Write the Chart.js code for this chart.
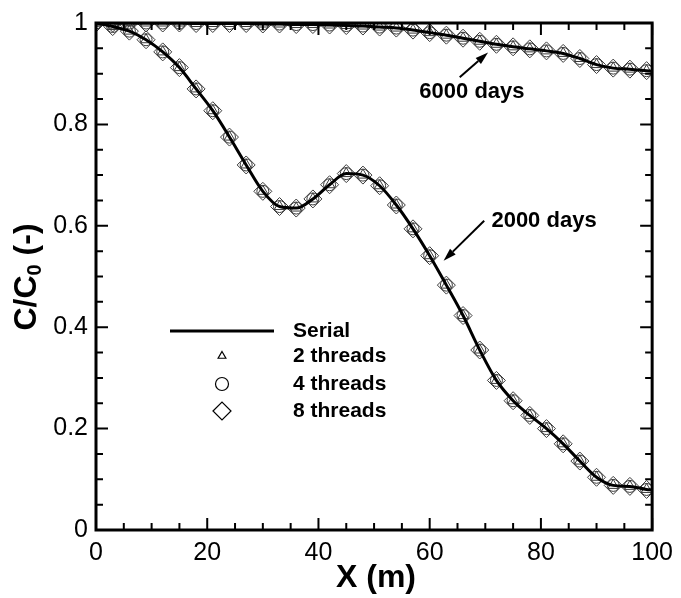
<!DOCTYPE html>
<html>
<head>
<meta charset="utf-8">
<script src="https://cdn.jsdelivr.net/npm/chart.js@4/dist/chart.umd.min.js"></script>
<style>
  html, body { margin: 0; padding: 0; background: #fff; }
  #wrap { width: 681px; height: 598px; }
</style>
</head>
<body>
<div id="wrap"><canvas id="chart" width="681" height="598"></canvas></div>
<script>
// sample positions along the column (m)
const xPos = [0, 3, 6, 9, 12, 15, 18, 21, 24, 27, 30, 33, 36, 39, 42, 45, 48,
  51, 54, 57, 60, 63, 66, 69, 72, 75, 78, 81, 84, 87, 90, 93, 96, 99];
// serial run also reports the outlet at 100 m
const xSerial = [0, 3, 6, 9, 12, 15, 18, 21, 24, 27, 30, 33, 36, 39, 42, 45, 48,
  51, 54, 57, 60, 63, 66, 69, 72, 75, 78, 81, 84, 87, 90, 93, 96, 99, 100];

// C/C0 at 2000 days
const c2000 = [1.0, 0.993, 0.984, 0.967, 0.943, 0.912, 0.870, 0.827, 0.775, 0.720,
  0.668, 0.638, 0.635, 0.653, 0.681, 0.703, 0.700, 0.679, 0.641, 0.594, 0.541,
  0.483, 0.423, 0.355, 0.295, 0.255, 0.226, 0.200, 0.170, 0.136, 0.104, 0.088,
  0.086, 0.080, 0.079];

// C/C0 at 6000 days
const c6000 = [1.0, 1.0, 1.0, 1.0, 1.0, 1.0, 0.999, 0.999, 0.999, 0.999,
  0.998, 0.998, 0.997, 0.997, 0.996, 0.995, 0.994, 0.992, 0.990, 0.986, 0.981,
  0.976, 0.970, 0.964, 0.958, 0.953, 0.949, 0.945, 0.940, 0.930, 0.918, 0.911,
  0.909, 0.906, 0.905];

const xTicks = [0, 20, 40, 60, 80, 100];
const yTicks = [0, 0.2, 0.4, 0.6, 0.8, 1];

const series = ["Serial", "2 threads", "4 threads", "8 threads"];
const markers = { "2 threads": "triangle", "4 threads": "circle", "8 threads": "rectRot" };
const markerSize = { "2 threads": 6, "4 threads": 6, "8 threads": 9 };

const toPts = (xs, ys) => xs.map((x, i) => ({ x: x, y: ys[i] }));

const datasets = [];
// serial curves (drawn on top)
[c2000, c6000].forEach(c => {
  datasets.push({
    label: "Serial",
    data: toPts(xSerial, c),
    showLine: true,
    borderColor: "#000",
    borderWidth: 3,
    pointRadius: 0,
    cubicInterpolationMode: "monotone",
    order: 0
  });
});
// threaded runs, same values as serial at sample points
series.slice(1).forEach((name, k) => {
  [c2000, c6000].forEach(c => {
    datasets.push({
      label: name,
      data: toPts(xPos, c),
      showLine: false,
      pointStyle: markers[name],
      pointRadius: markerSize[name],
      pointBorderColor: "#3a3a3a",
      pointBackgroundColor: "rgba(0,0,0,0)",
      pointBorderWidth: 1,
      order: 3 - k
    });
  });
});

const frame = {
  id: "frame",
  afterDraw(chart) {
    const ctx = chart.ctx;
    const a = chart.chartArea;
    const xs = chart.scales.x, ys = chart.scales.y;
    ctx.save();
    ctx.strokeStyle = "#000";
    ctx.lineWidth = 3;
    ctx.strokeRect(a.left, a.top, a.right - a.left, a.bottom - a.top);

    // inward ticks on all four sides
    ctx.lineWidth = 2;
    for (let v = 0; v <= 100; v += 5) {
      const px = xs.getPixelForValue(v);
      const len = v % 20 === 0 ? 12 : 7;
      ctx.beginPath();
      ctx.moveTo(px, a.bottom); ctx.lineTo(px, a.bottom - len);
      ctx.moveTo(px, a.top); ctx.lineTo(px, a.top + len);
      ctx.stroke();
    }
    for (let i = 0; i <= 20; i++) {
      const py = ys.getPixelForValue(i * 0.05);
      const len = i % 4 === 0 ? 12 : 7;
      ctx.beginPath();
      ctx.moveTo(a.left, py); ctx.lineTo(a.left + len, py);
      ctx.moveTo(a.right, py); ctx.lineTo(a.right - len, py);
      ctx.stroke();
    }

    // axis titles
    ctx.fillStyle = "#000";
    ctx.font = "bold 32px 'Liberation Sans', Arial, sans-serif";
    ctx.textAlign = "center";
    ctx.textBaseline = "middle";
    ctx.fillText("X (m)", 376, 578);

    ctx.save();
    ctx.translate(27, 277);
    ctx.rotate(-Math.PI / 2);
    const big = "bold 32px 'Liberation Sans', Arial, sans-serif";
    const small = "bold 20px 'Liberation Sans', Arial, sans-serif";
    ctx.font = big;
    const w1 = ctx.measureText("C/C").width;
    const w3 = ctx.measureText(" (-)").width;
    ctx.font = small;
    const w2 = ctx.measureText("0").width;
    let sx = -(w1 + w2 + w3) / 2;
    ctx.textAlign = "left";
    ctx.font = big;
    ctx.fillText("C/C", sx, 0);
    ctx.font = small;
    ctx.fillText("0", sx + w1, 8);
    ctx.font = big;
    ctx.fillText(" (-)", sx + w1 + w2, 0);
    ctx.restore();

    // annotations with arrows
    const arrow = (x0, y0, x1, y1) => {
      const p0 = [xs.getPixelForValue(x0), ys.getPixelForValue(y0)];
      const p1 = [xs.getPixelForValue(x1), ys.getPixelForValue(y1)];
      const ang = Math.atan2(p1[1] - p0[1], p1[0] - p0[0]);
      const hl = 13, hw = 4;
      const bx = p1[0] - hl * Math.cos(ang), by = p1[1] - hl * Math.sin(ang);
      ctx.lineWidth = 2;
      ctx.beginPath();
      ctx.moveTo(p0[0], p0[1]); ctx.lineTo(bx, by);
      ctx.stroke();
      ctx.beginPath();
      ctx.moveTo(p1[0], p1[1]);
      ctx.lineTo(bx + hw * Math.sin(ang), by - hw * Math.cos(ang));
      ctx.lineTo(bx - hw * Math.sin(ang), by + hw * Math.cos(ang));
      ctx.closePath();
      ctx.fill();
    };
    arrow(65.4, 0.893, 70.5, 0.942);
    arrow(69.8, 0.610, 62.5, 0.531);

    ctx.font = "bold 22px 'Liberation Sans', Arial, sans-serif";
    ctx.textAlign = "center";
    ctx.fillText("6000 days", xs.getPixelForValue(67.6), ys.getPixelForValue(0.864));
    ctx.textAlign = "left";
    ctx.fillText("2000 days", xs.getPixelForValue(71.1), ys.getPixelForValue(0.610));

    // legend
    const lx = 222, tx = 293;
    const rows = [331, 356, 384, 411];
    ctx.font = "bold 21px 'Liberation Sans', Arial, sans-serif";
    series.forEach((name, i) => {
      const y = rows[i];
      if (name === "Serial") {
        ctx.lineWidth = 3;
        ctx.beginPath();
        ctx.moveTo(170, y); ctx.lineTo(274, y);
        ctx.stroke();
      } else {
        ctx.strokeStyle = "#000";
        ctx.fillStyle = "rgba(0,0,0,0)";
        ctx.lineWidth = 1.2;
        Chart.helpers.drawPoint(ctx, {
          pointStyle: markers[name],
          radius: name === "2 threads" ? 4.5 : (name === "4 threads" ? 6.5 : 9),
          rotation: 0,
          borderWidth: 1.2
        }, lx, y);
      }
      ctx.fillStyle = "#000";
      ctx.fillText(name, tx, y);
    });
    ctx.restore();
  }
};

const tickFont = { family: "'Liberation Sans', Arial, sans-serif", size: 25 };
const fmt = v => String(Math.round(v * 10) / 10);

new Chart(document.getElementById("chart"), {
  type: "scatter",
  data: { datasets: datasets },
  options: {
    responsive: false,
    animation: false,
    layout: { padding: { top: 18, right: 24, left: 0, bottom: 0 } },
    plugins: { legend: { display: false }, tooltip: { enabled: false } },
    scales: {
      x: {
        type: "linear",
        min: 0,
        max: 100,
        afterFit: s => { s.height = 68; },
        afterBuildTicks: s => { s.ticks = xTicks.map(v => ({ value: v })); },
        grid: { display: false, drawTicks: false },
        border: { display: false },
        ticks: { color: "#000", padding: 8, maxRotation: 0, font: tickFont, callback: fmt }
      },
      y: {
        type: "linear",
        min: 0,
        max: 1,
        afterFit: s => { s.width = 96; },
        afterBuildTicks: s => { s.ticks = yTicks.map(v => ({ value: v })); },
        grid: { display: false, drawTicks: false },
        border: { display: false },
        ticks: { color: "#000", padding: 8, font: tickFont, callback: fmt }
      }
    }
  },
  plugins: [frame]
});
</script>
</body>
</html>
